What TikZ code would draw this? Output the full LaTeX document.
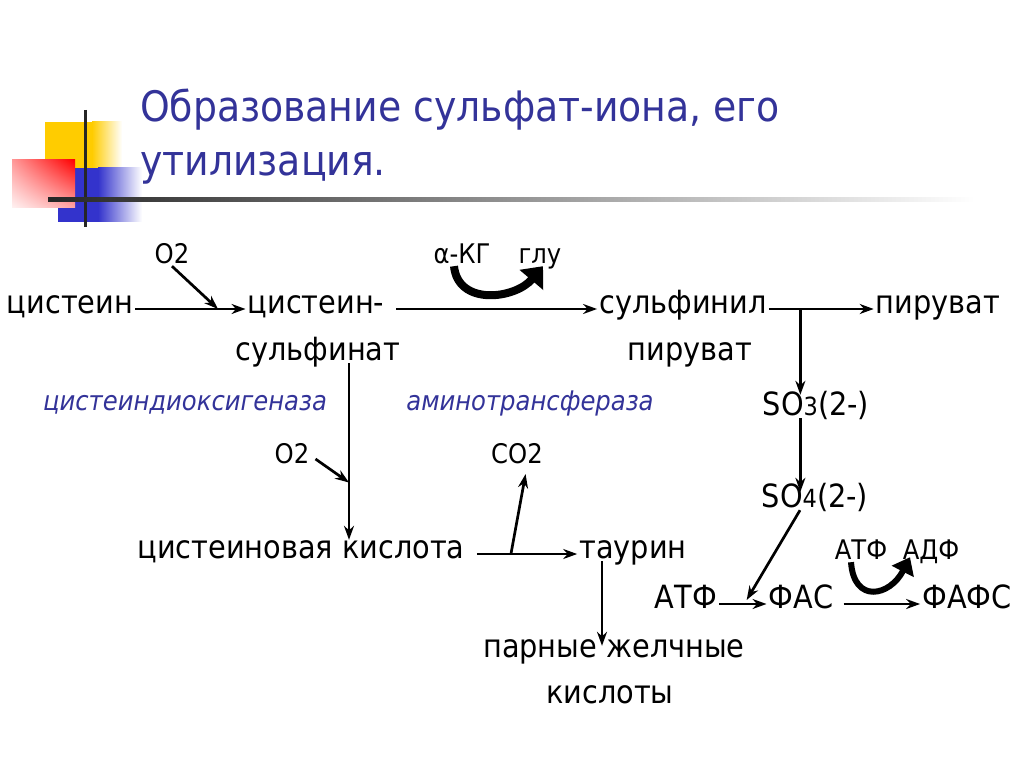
\documentclass[tikz,border=0pt]{standalone}
\usepackage{fontspec}
\setmainfont{DejaVu Sans Condensed}
\usetikzlibrary{arrows.meta,positioning,calc,shadings}
\definecolor{cTitle}{HTML}{333399}
\definecolor{cEnzyme}{HTML}{333399}
\definecolor{cYellow}{HTML}{FFCC00}
\definecolor{cBlue}{HTML}{3333CC}

\begin{document}
\begin{tikzpicture}[x=1pt, y=-1pt,
    ttl/.style={font=\fontsize{42}{52}\selectfont, text=cTitle, anchor=base west, inner sep=0pt},
    chem/.style={font=\fontsize{32}{38}\selectfont, text height=0.9em, text depth=0.1em, inner sep=2pt, anchor=base},
    lbl/.style={font=\fontsize{27}{32}\selectfont, text height=0.9em, text depth=0.1em, inner sep=2pt, anchor=base},
    enz/.style={font=\fontsize{27}{32}\selectfont\itshape, text=cEnzyme, inner sep=2pt, anchor=base},
    arr/.style={-{Stealth[length=14pt,width=10pt]}, line width=2.7pt},
    fat/.style={-{Triangle[length=18pt,width=30pt]}, line width=8pt},
    fatsmall/.style={-{Triangle[length=16pt,width=24pt]}, line width=6pt}
]
\useasboundingbox (0,0) rectangle (1024,767);
\fill[white] (0,0) rectangle (1024,767);

\fill[cYellow] (45,122) rectangle (92,175);
\shade[left color=cYellow, right color=white] (92,122) rectangle (122,175);
\fill[cBlue] (58,168) rectangle (98,222);
\shade[left color=cBlue, right color=white] (98,168) rectangle (142,222);
\shade[upper left=red!40, upper right=red, lower left=red!5, lower right=red!35] (12,160) rectangle (75,208);
\draw[line width=3pt, black!85] (85,110) -- (85,227);
\shade[left color=black!85, middle color=black!25, right color=white] (48,198) rectangle (975,201.5);

\node[ttl] (title1) at (140,122) {Образование сульфат-иона, его};
\node[ttl] (title2) at (140,176) {утилизация.};

\node[chem] (cys)  at (70,313)  {цистеин};
\node[chem] (cyss) at (316,313) {цистеин-};
\node[chem] (sulf) at (318,360) {сульфинат};
\node[chem] (sfl)  at (683,313) {сульфинил};
\node[chem] (sflp) at (690,360) {пируват};
\node[chem] (pyr)  at (938,313) {пируват};
\node[chem] (so3)  at (816,415) {SO{\fontsize{25}{30}\selectfont 3}(2-)};
\node[chem] (so4)  at (815,507) {SO{\fontsize{25}{30}\selectfont 4}(2-)};
\node[chem] (acid) at (301,558) {цистеиновая кислота};
\node[chem] (taur) at (633,558) {таурин};
\node[chem] (atf)  at (686,608) {АТФ};
\node[chem] (fas)  at (801,608) {ФАС};
\node[chem] (fafs) at (967,608) {ФАФС};
\node[chem] (bile1) at (614,657) {парные желчные};
\node[chem] (bile2) at (610,703) {кислоты};

\node[lbl] (o2a)  at (172,263) {O2};
\node[lbl] (akg)  at (462,263) {α-КГ};
\node[lbl] (glu)  at (540,263) {глу};
\node[lbl] (o2b)  at (292,463) {O2};
\node[lbl] (co2)  at (517,463) {CO2};
\node[lbl] (atfl) at (861,559) {АТФ};
\node[lbl] (adf)  at (931,559) {АДФ};
\node[enz] (cdo)  at (185,410) {цистеиндиоксигеназа};
\node[enz] (amt)  at (530,410) {аминотрансфераза};

\foreach \a/\b in {cys/cyss, sfl/pyr, atf/fas} {
  \draw[arr] (\a.east) -- (\b.west);
}
\draw[arr, shorten <=10pt] (cyss.east) -- (sfl.west);
\draw[arr, shorten <=10pt] (acid.east) -- (taur.west);
\draw[arr, shorten <=8pt] (fas.east) -- (fafs.west);

\draw[arr] (o2a.south) -- ($(cys.east)!0.75!(cyss.west)$);
\coordinate (vtop) at ([xshift=31pt]sulf.south);
\coordinate (vbot) at (vtop |- acid.north);
\draw[arr, shorten >=7pt] (vtop) -- (vbot);
\draw[arr] ([xshift=4pt]o2b.east) -- ($(vtop)!0.65!(vbot)$);

\coordinate (br) at ($(sfl.east)!0.3!(pyr.west)$);
\draw[arr, shorten >=9pt] (br) -- (br |- so3.north);
\draw[arr, shorten >=4pt] (br |- so3.south) -- (br |- so4.north);
\draw[arr] ([xshift=-15pt]so4.south) -- ($(atf.east)!0.58!(fas.west) + (0,-4)$);

\coordinate (br2) at ($(acid.east)!0.4!(taur.west)$);
\draw[arr, shorten >=8pt] (br2) -- ([xshift=10pt]co2.south);
\draw[arr] ([xshift=-31pt]taur.south) -- ([xshift=-12pt]bile1.north);

\draw[fat] ([xshift=-8pt]akg.south) .. controls +(4,40) and +(-28,33) .. ([xshift=3pt]glu.south);
\draw[fatsmall] ([xshift=-10pt]atfl.south) .. controls +(3,42) and +(-20,39) .. ([xshift=-21pt,yshift=5pt]adf.south);
\end{tikzpicture}
\end{document}
